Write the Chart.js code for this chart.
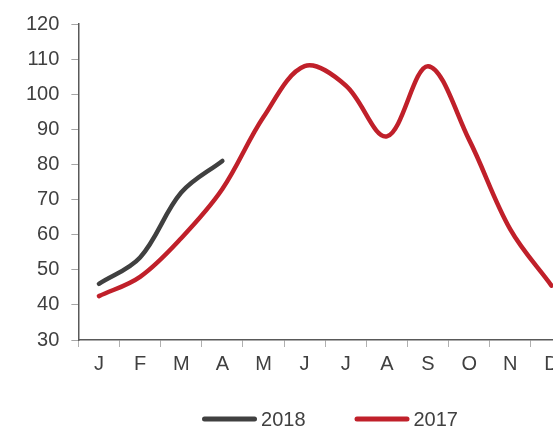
<!DOCTYPE html>
<html>
<head>
<meta charset="utf-8">
<script src="https://cdn.jsdelivr.net/npm/chart.js@4/dist/chart.umd.min.js"></script>
<style>
html,body{margin:0;padding:0;overflow:hidden;background:#fff;width:553px;height:428px;}
#wrap{position:relative;width:660px;height:428px;}
</style>
</head>
<body>
<div id="wrap"><canvas id="c"></canvas></div>
<script>
const months = ['J','F','M','A','M','J','J','A','S','O','N','D'];
const series2018 = [46, 53.5, 72, 81];
const series2017 = [42.5, 48, 59, 73, 93.5, 108, 102.5, 88, 108, 87, 61.5, 45.5];
const yTicks = {min: 30, max: 120, step: 10};

const textColor = '#404040';
const fontFamily = "'Liberation Sans', Arial, sans-serif";
const fontSpec = {family: fontFamily, size: 20};

const bottomLegend = {
  id: 'bottomLegend',
  afterDraw(chart) {
    const ctx = chart.ctx;
    const items = chart.data.datasets;
    const lineLen = 55, gapText = 4, gapItems = 49, lineW = 5;
    ctx.save();
    ctx.font = fontSpec.size + 'px ' + fontFamily;
    const widths = items.map(d => ctx.measureText(d.label).width);
    let total = 0;
    widths.forEach((w, i) => { total += lineLen + gapText + w + (i < widths.length - 1 ? gapItems : 0); });
    let x = chart.width / 2 - total / 2;
    const yLine = 419, yText = 420;
    items.forEach((d, i) => {
      ctx.strokeStyle = d.borderColor;
      ctx.lineWidth = lineW;
      ctx.lineCap = 'round';
      ctx.beginPath();
      ctx.moveTo(x + lineW / 2, yLine);
      ctx.lineTo(x + lineLen - lineW / 2, yLine);
      ctx.stroke();
      ctx.fillStyle = textColor;
      ctx.textBaseline = 'middle';
      ctx.textAlign = 'left';
      ctx.fillText(d.label, x + lineLen + gapText, yText);
      x += lineLen + gapText + widths[i] + gapItems;
    });
    ctx.restore();
  }
};

new Chart(document.getElementById('c'), {
  type: 'line',
  data: {
    labels: months,
    datasets: [
      {label: '2018', data: series2018, borderColor: '#404040', backgroundColor: '#404040',
       borderWidth: 4.5, pointRadius: 0, tension: 0.35, borderCapStyle: 'round', fill: false},
      {label: '2017', data: series2017, borderColor: '#C0202A', backgroundColor: '#C0202A',
       borderWidth: 4.5, pointRadius: 0, tension: 0.35, borderCapStyle: 'round', fill: false}
    ]
  },
  plugins: [bottomLegend],
  options: {
    responsive: true,
    maintainAspectRatio: false,
    animation: false,
    layout: {padding: {left: 14, right: 88, top: 15, bottom: 47}},
    plugins: {
      tooltip: {enabled: false},
      legend: {display: false}
    },
    scales: {
      x: {
        offset: true,
        grid: {display: true, offset: true, drawOnChartArea: false, drawTicks: true, tickLength: 7, color: '#b0b0b0'},
        border: {display: true, color: '#595959', width: 1.5},
        ticks: {color: textColor, font: fontSpec, padding: 5, maxRotation: 0, autoSkip: false}
      },
      y: {
        min: yTicks.min, max: yTicks.max,
        grid: {display: true, drawOnChartArea: false, drawTicks: true, tickLength: 7, color: '#a6a6a6'},
        border: {display: true, color: '#595959', width: 1.5},
        ticks: {stepSize: yTicks.step, color: textColor, font: fontSpec, padding: 12}
      }
    }
  }
});
</script>
</body>
</html>
